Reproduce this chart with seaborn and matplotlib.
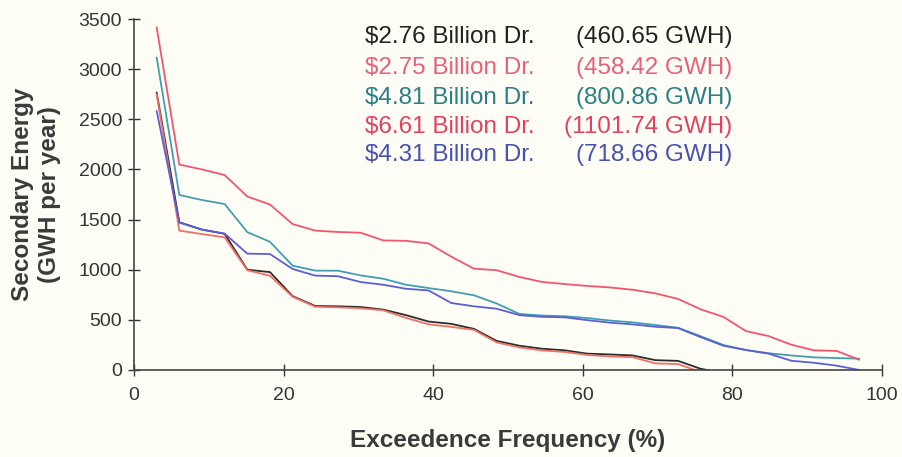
import numpy as np
import pandas as pd
import matplotlib
matplotlib.use("Agg")
import matplotlib.pyplot as plt
import seaborn as sns

# ---- data ----
series_names = ["$2.76 Billion Dr.", "$2.75 Billion Dr.", "$4.81 Billion Dr.",
                "$6.61 Billion Dr.", "$4.31 Billion Dr."]
energy_labels = ["(460.65 GWH)", "(458.42 GWH)", "(800.86 GWH)",
                 "(1101.74 GWH)", "(718.66 GWH)"]

# exceedence frequency (%) of each ranked year: rank / 33
freq = [3.03, 6.06, 9.09, 12.12, 15.15, 18.18, 21.21, 24.24, 27.27, 30.30,
        33.33, 36.36, 39.39, 42.42, 45.45, 48.48, 51.52, 54.55, 57.58, 60.61,
        63.64, 66.67, 69.70, 72.73, 75.76, 78.79, 81.82, 84.85, 87.88, 90.91,
        93.94, 96.97]

e_276 = [2767, 1473, 1400, 1358, 1000, 976, 736, 638, 635, 628, 602, 547, 483,
         460, 410, 290, 242, 212, 196, 163, 155, 145, 98, 91, 12, -30]
e_275 = [2750, 1390, 1355, 1323, 995, 940, 730, 630, 625, 615, 595, 520, 455,
         430, 400, 275, 225, 195, 180, 150, 135, 128, 66, 59, -20]
e_481 = [3117, 1745, 1695, 1655, 1375, 1278, 1040, 991, 990, 943, 910, 850,
         817, 785, 745, 663, 559, 543, 536, 518, 493, 475, 449, 421, 337, 249,
         199, 167, 145, 126, 119, 113]
e_661 = [3416, 2048, 2000, 1944, 1730, 1650, 1455, 1390, 1376, 1369, 1292,
         1288, 1262, 1130, 1010, 995, 928, 878, 857, 838, 823, 800, 764, 709,
         605, 530, 388, 338, 252, 196, 190, 102]
e_431 = [2583, 1470, 1400, 1360, 1160, 1156, 1007, 941, 935, 877, 850, 810,
         793, 668, 635, 611, 547, 530, 525, 497, 472, 455, 431, 418, 328, 242,
         199, 163, 92, 72, 43, 0]

values = [e_276, e_275, e_481, e_661, e_431]
line_colors = ["#2b2b2b", "#f07068", "#3ea6bb", "#f2566c", "#5a5fd2"]
text_colors = ["#222222", "#e8607a", "#2b7f88", "#e2415f", "#4652b0"]

# ---- long-form table ----
rows = []
for name, vals in zip(series_names, values):
    for f, v in zip(freq, vals):
        rows.append({"freq": f, "energy": v, "series": name})
df = pd.DataFrame(rows)

sns.set_style("ticks")
plt.rcParams["font.family"] = ["Liberation Sans", "DejaVu Sans"]

fig = plt.figure(figsize=(9.03, 4.57), dpi=100)
fig.patch.set_facecolor("#fffef6")
ax = fig.add_axes([0.1484, 0.1904, 0.8283, 0.768])
ax.set_facecolor("#fffef6")

sns.lineplot(data=df, x="freq", y="energy", hue="series",
             hue_order=series_names, palette=line_colors,
             estimator=None, sort=False, linewidth=1.3, legend=False, ax=ax)
# speckled grey texture on the teal curve, as in the scanned original
teal = df[df["series"] == series_names[2]]
sns.lineplot(data=teal, x="freq", y="energy", color="#6b6b6b",
             estimator=None, sort=False, linewidth=0.7, linestyle=(0, (1, 2)),
             alpha=0.55, legend=False, ax=ax)

ax.set_xlim(0, 100)
ax.set_ylim(0, 3500)
ax.set_xticks([0, 20, 40, 60, 80, 100])
ax.set_yticks([0, 500, 1000, 1500, 2000, 2500, 3000, 3500])
ax.tick_params(axis="both", direction="inout", length=9, width=1.0,
               labelsize=14, colors="#333333", pad=4)
ax.tick_params(axis="x", pad=8)
for s in ["top", "right"]:
    ax.spines[s].set_visible(False)
for s in ["left", "bottom"]:
    ax.spines[s].set_color("#444444")
    ax.spines[s].set_linewidth(1.2)

ax.set_xlabel("Exceedence Frequency (%)", fontsize=17.5, fontweight="bold",
              color="#3a3a3a", labelpad=18)
ax.set_ylabel("Secondary Energy\n(GWH per year)", fontsize=17.5,
              fontweight="bold", color="#3a3a3a", labelpad=13,
              linespacing=1.2)

# coloured two-column legend text
row_y = [0.9197, 0.8505, 0.7849, 0.7228, 0.6608]
for name, lab, col, yy in zip(series_names, energy_labels, text_colors, row_y):
    fig.text(0.404, yy, name.replace("$", r"\$"), color=col, fontsize=17.5,
             ha="left", va="center")
    fig.text(0.811, yy, lab, color=col, fontsize=17.5, ha="right",
             va="center")

fig.savefig("out.png", dpi=100, facecolor=fig.get_facecolor())
